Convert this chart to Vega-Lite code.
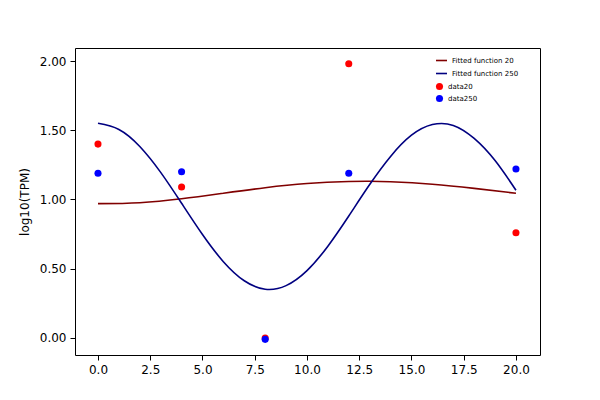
{
  "$schema": "https://vega.github.io/schema/vega-lite/v6.json",
  "width": 465,
  "height": 307,
  "autosize": "none",
  "padding": {"left": 75, "top": 48, "right": 60, "bottom": 45},
  "config": {
    "view": {"stroke": "black", "strokeWidth": 1},
    "font": "DejaVu Sans",
    "axis": {"grid": false, "domain": false, "tickColor": "black", "labelColor": "black", "labelFontSize": 12, "tickSize": 5, "labelPadding": 4, "titleFontWeight": "normal", "titleFontSize": 12, "titleColor": "black"},
    "legend": {"labelFontSize": 7, "symbolSize": 50, "rowPadding": 3, "padding": 0}
  },
  "datasets": {
    "fits": [
      {"x": 0, "y": 0.970, "s": "Fitted function 20"},
      {"x": 2, "y": 0.977, "s": "Fitted function 20"},
      {"x": 4, "y": 1.005, "s": "Fitted function 20"},
      {"x": 6, "y": 1.045, "s": "Fitted function 20"},
      {"x": 8, "y": 1.085, "s": "Fitted function 20"},
      {"x": 10, "y": 1.115, "s": "Fitted function 20"},
      {"x": 12, "y": 1.130, "s": "Fitted function 20"},
      {"x": 13, "y": 1.132, "s": "Fitted function 20"},
      {"x": 14, "y": 1.128, "s": "Fitted function 20"},
      {"x": 16, "y": 1.110, "s": "Fitted function 20"},
      {"x": 18, "y": 1.080, "s": "Fitted function 20"},
      {"x": 20, "y": 1.045, "s": "Fitted function 20"},
      {"x": 0, "y": 1.550, "s": "Fitted function 250"},
      {"x": 1, "y": 1.506, "s": "Fitted function 250"},
      {"x": 2, "y": 1.383, "s": "Fitted function 250"},
      {"x": 3, "y": 1.196, "s": "Fitted function 250"},
      {"x": 4, "y": 0.973, "s": "Fitted function 250"},
      {"x": 5, "y": 0.747, "s": "Fitted function 250"},
      {"x": 6, "y": 0.551, "s": "Fitted function 250"},
      {"x": 7, "y": 0.413, "s": "Fitted function 250"},
      {"x": 8, "y": 0.352, "s": "Fitted function 250"},
      {"x": 9, "y": 0.378, "s": "Fitted function 250"},
      {"x": 10, "y": 0.486, "s": "Fitted function 250"},
      {"x": 11, "y": 0.663, "s": "Fitted function 250"},
      {"x": 12, "y": 0.881, "s": "Fitted function 250"},
      {"x": 13, "y": 1.108, "s": "Fitted function 250"},
      {"x": 14, "y": 1.311, "s": "Fitted function 250"},
      {"x": 15, "y": 1.464, "s": "Fitted function 250"},
      {"x": 16, "y": 1.541, "s": "Fitted function 250"},
      {"x": 17, "y": 1.535, "s": "Fitted function 250"},
      {"x": 18, "y": 1.441, "s": "Fitted function 250"},
      {"x": 19, "y": 1.281, "s": "Fitted function 250"},
      {"x": 20, "y": 1.067, "s": "Fitted function 250"}
    ],
    "pts": [
      {"x": 0, "y": 1.40, "s": "data20"},
      {"x": 4, "y": 1.09, "s": "data20"},
      {"x": 8, "y": 0.00, "s": "data20"},
      {"x": 12, "y": 1.98, "s": "data20"},
      {"x": 20, "y": 0.76, "s": "data20"},
      {"x": 0, "y": 1.19, "s": "data250"},
      {"x": 4, "y": 1.20, "s": "data250"},
      {"x": 8, "y": -0.01, "s": "data250"},
      {"x": 12, "y": 1.19, "s": "data250"},
      {"x": 20, "y": 1.22, "s": "data250"}
    ]
  },
  "layer": [
    {
      "data": {"name": "fits"},
      "mark": {"type": "line", "interpolate": "natural", "strokeWidth": 1.6},
      "encoding": {
        "x": {"field": "x", "type": "quantitative", "scale": {"domain": [-1.1, 21.15], "nice": false, "zero": false},
              "axis": {"values": [0, 2.5, 5, 7.5, 10, 12.5, 15, 17.5, 20], "format": ".1f", "title": null}},
        "y": {"field": "y", "type": "quantitative", "scale": {"domain": [-0.123, 2.094], "nice": false, "zero": false},
              "axis": {"values": [0, 0.25, 0.5, 0.75, 1, 1.25, 1.5, 1.75, 2], "format": ".2f", "title": "log10(TPM)", "titlePadding": 8}},
        "color": {"field": "s", "type": "nominal", "scale": {"domain": ["Fitted function 20", "Fitted function 250"], "range": ["#800000", "#000080"]},
                  "legend": {"title": null, "orient": "none", "legendX": 360, "legendY": 6, "symbolType": "stroke", "symbolStrokeWidth": 1.6, "symbolSize": 120}}
      }
    },
    {
      "data": {"name": "pts"},
      "mark": {"type": "circle", "size": 50, "opacity": 1},
      "encoding": {
        "x": {"field": "x", "type": "quantitative"},
        "y": {"field": "y", "type": "quantitative"},
        "fill": {"field": "s", "type": "nominal", "scale": {"domain": ["data20", "data250"], "range": ["red", "blue"]},
                 "legend": {"title": null, "orient": "none", "legendX": 360, "legendY": 34, "symbolType": "circle"}}
      }
    }
  ],
  "resolve": {"scale": {"color": "independent", "fill": "independent"}}
}
